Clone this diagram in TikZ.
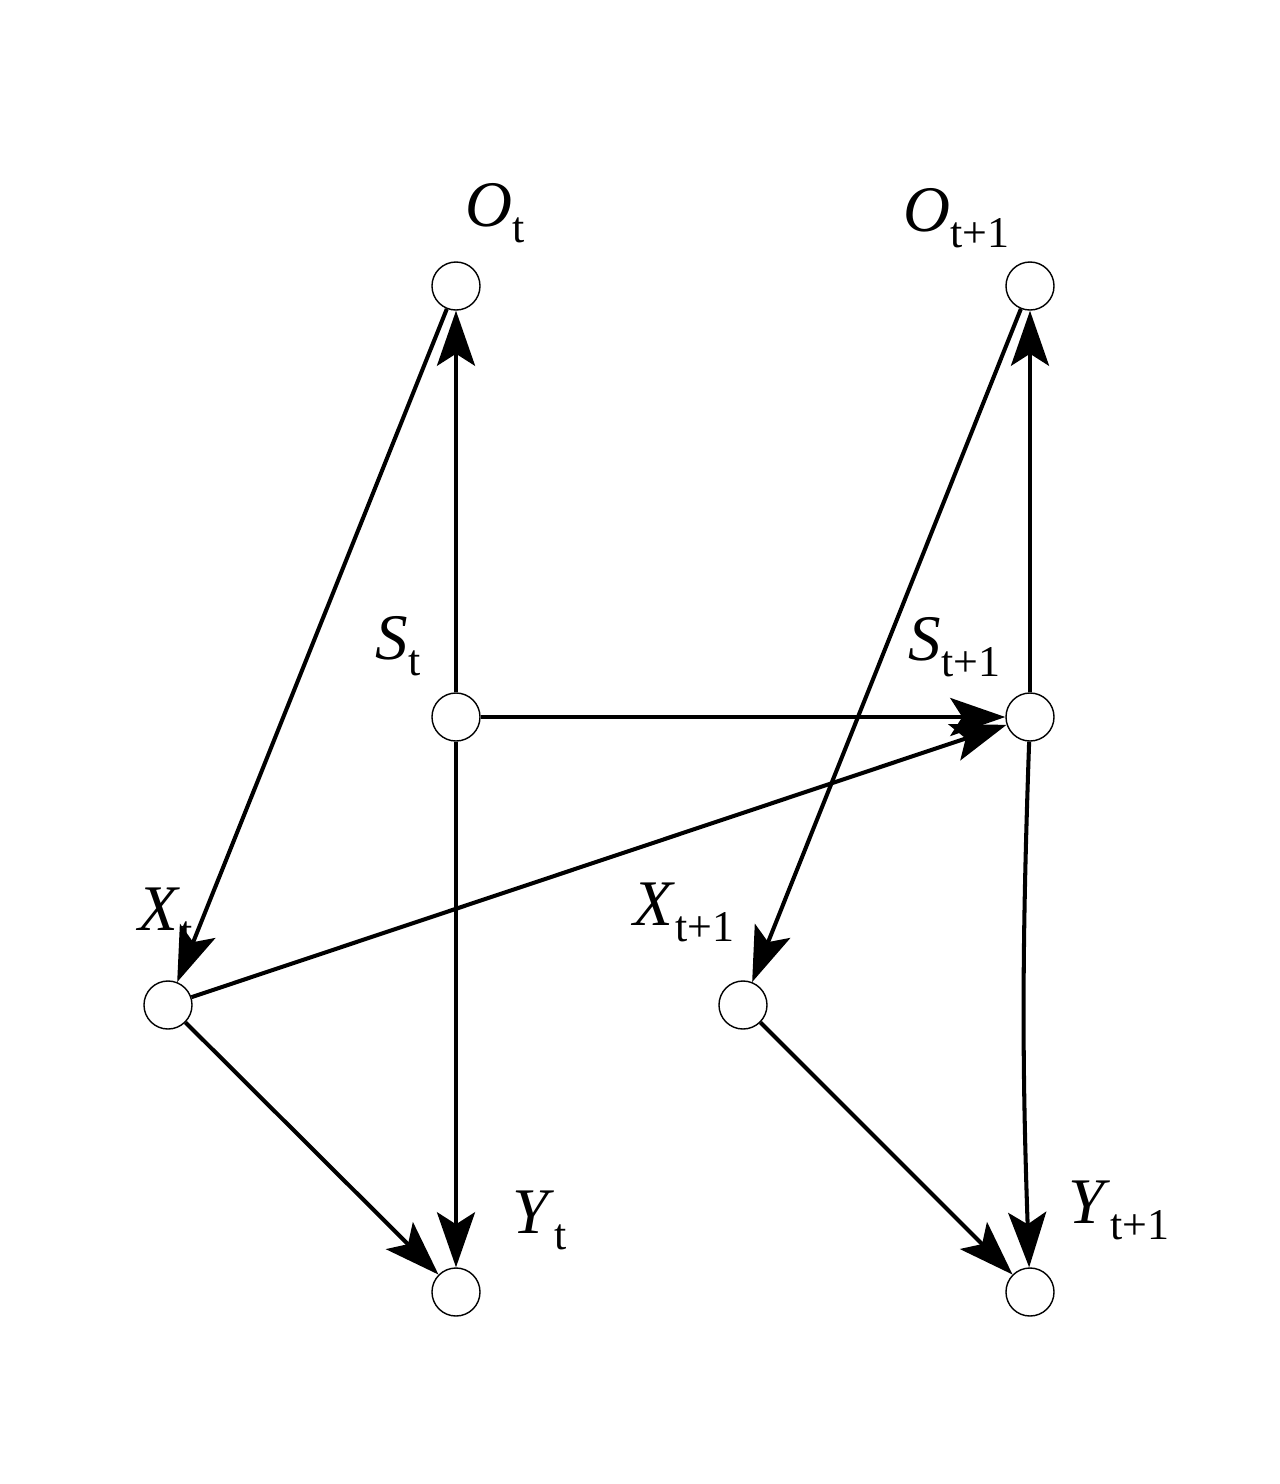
\documentclass[tikz,border=0pt]{standalone}
\usepackage{fontspec}
\setmainfont{Liberation Serif}
\usetikzlibrary{arrows.meta}
\newcommand{\lab}[2]{\fontsize{18.5}{20}\selectfont\textit{#1}\raisebox{-0.25em}{\fontsize{12.5}{14}\selectfont #2}}
\begin{document}
\begin{tikzpicture}[x=0.01cm,y=-0.01cm,
  vnode/.style={circle,draw,line width=0.4pt,minimum size=0.48cm,inner sep=0pt,fill=white},
  edge/.style={line width=1.15pt,-{Stealth[length=0.55cm,width=0.38cm,inset=0.12cm]}},
  lbl/.style={anchor=base west,inner sep=0pt}]
\useasboundingbox (0,0) rectangle (1280,1484);
\node[vnode] (O1) at (456,286) {};
\node[vnode] (O2) at (1030,286) {};
\node[vnode] (S1) at (456,717) {};
\node[vnode] (S2) at (1030,717) {};
\node[vnode] (X1) at (168,1005) {};
\node[vnode] (X2) at (743,1005) {};
\node[vnode] (Y1) at (456,1292) {};
\node[vnode] (Y2) at (1030,1292) {};
\node[lbl] (lO1) at (465,226) {\lab{O}{t}};
\node[lbl] (lO2) at (903,231) {\lab{O}{t+1}};
\node[lbl] (lS1) at (375,659) {\lab{S}{t}};
\node[lbl] (lS2) at (908,660) {\lab{S}{t+1}};
\node[lbl] (lX1) at (138,930) {\lab{X}{t}};
\node[lbl] (lX2) at (633,925) {\lab{X}{t+1}};
\node[lbl] (lY1) at (512,1233) {\lab{Y}{t}};
\node[lbl] (lY2) at (1068,1223) {\lab{Y}{t+1}};
\draw[edge] (S1) -- (O1);
\draw[edge] (S1) -- (Y1);
\draw[edge] (S1) -- (S2);
\draw[edge] (O1) -- (X1);
\draw[edge] (X1) -- (S2);
\draw[edge] (X1) -- (Y1);
\draw[edge] (O2) -- (X2);
\draw[edge] (S2) -- (O2);
\draw[edge] (S2) to[bend right=2] (Y2);
\draw[edge] (X2) -- (Y2);
\end{tikzpicture}
\end{document}
